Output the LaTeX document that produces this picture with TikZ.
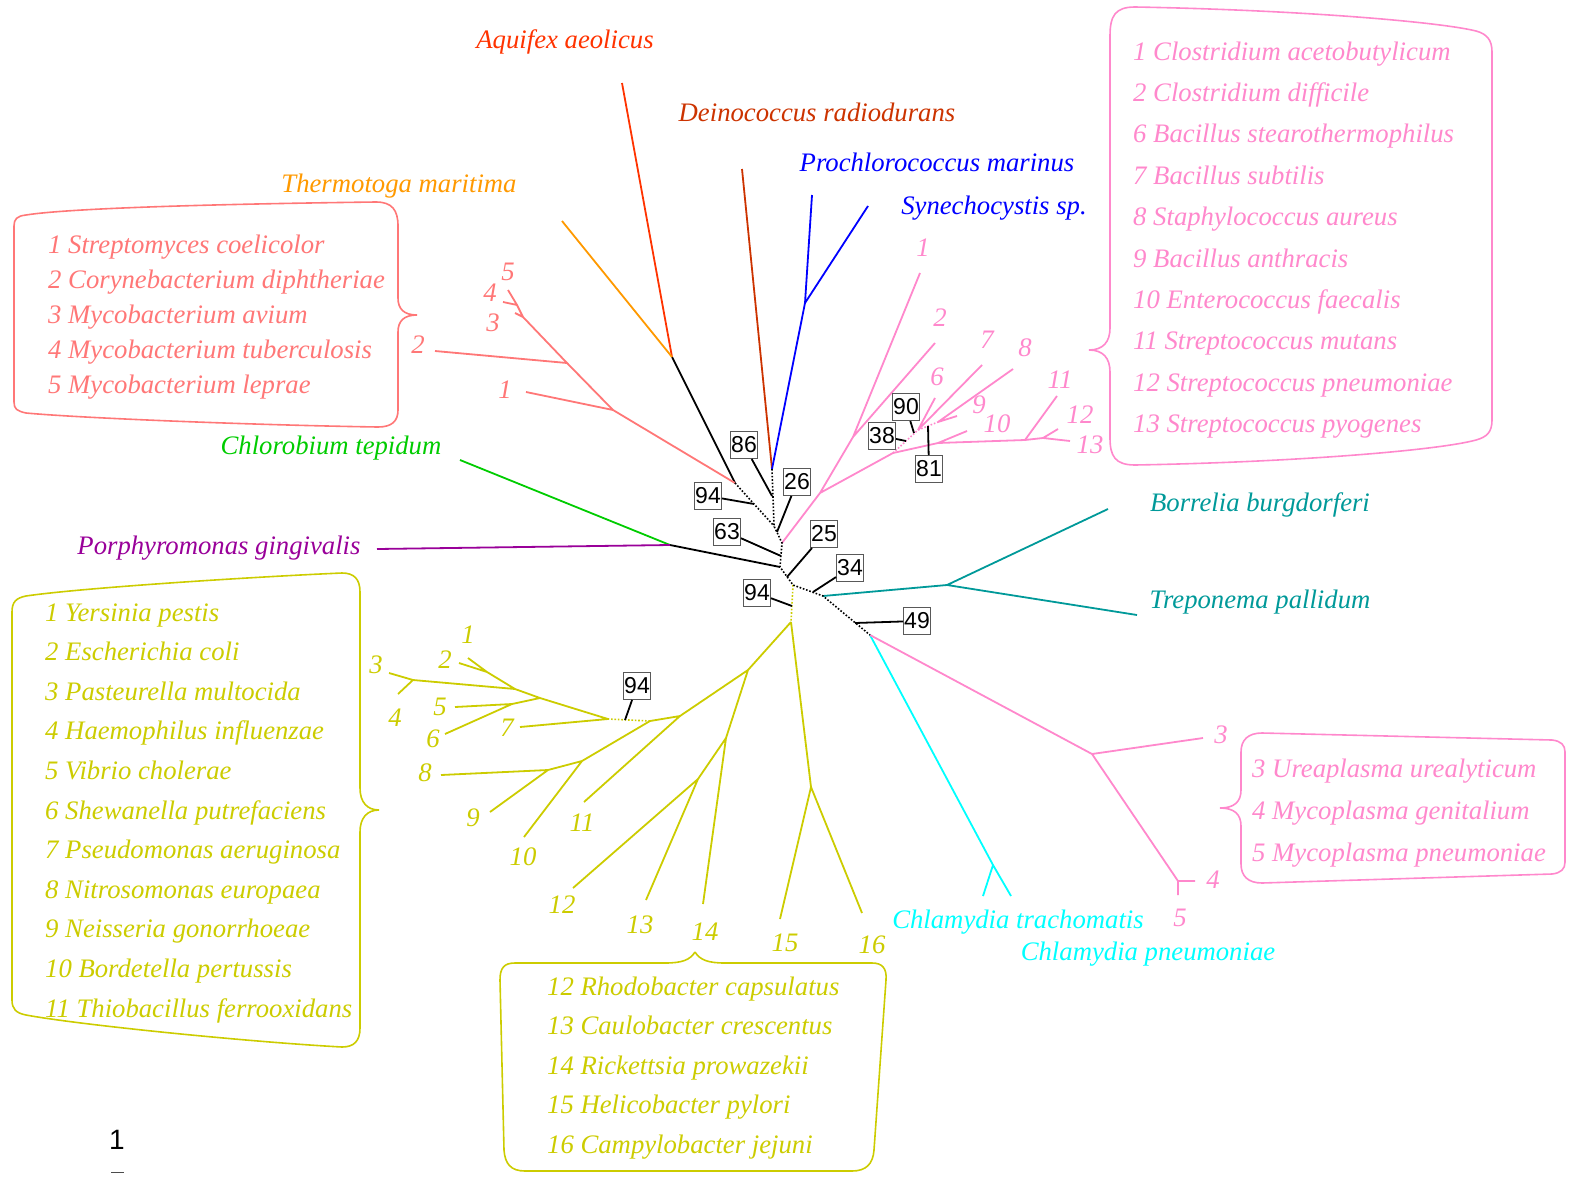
\documentclass[tikz,border=0pt]{standalone}
\usepackage{fontspec}
\setmainfont{Liberation Serif}
\setsansfont{Liberation Sans}
\definecolor{actino}{RGB}{255,119,119}
\definecolor{firmi}{RGB}{255,136,204}
\definecolor{proteo}{RGB}{204,204,0}
\definecolor{thermo}{RGB}{255,153,0}
\definecolor{aquif}{RGB}{255,51,0}
\definecolor{deino}{RGB}{204,51,0}
\definecolor{cyano}{RGB}{0,0,255}
\definecolor{chlorob}{RGB}{0,204,0}
\definecolor{bactero}{RGB}{153,0,153}
\definecolor{spiro}{RGB}{0,153,153}
\definecolor{chlam}{RGB}{0,255,255}
\tikzset{
  branch/.style={line width=1.8pt},
  inner/.style={line width=1.6pt, dash pattern=on 1.6pt off 1.8pt},
  sp/.style={font=\itshape\fontsize{26.7}{32}\selectfont, inner sep=0pt, anchor=base},
  item/.style={font=\itshape\fontsize{26.7}{32}\selectfont, inner sep=0pt, anchor=base west},
  num/.style={font=\itshape\fontsize{26.7}{32}\selectfont, inner sep=0pt},
  boot/.style={draw=black!65, line width=1pt, fill=white, font=\sffamily\fontsize{23}{23}\selectfont,
    inner sep=0pt, minimum width=27pt, minimum height=27pt},
  pointer/.style={line width=1.8pt},
  bracebox/.style={line width=1.6pt}
}
\begin{document}
\begin{tikzpicture}[x=1pt,y=-1pt]
  \useasboundingbox (0,0) rectangle (1573,1178);
  % backbone
  \coordinate (A) at (735,483); \coordinate (C) at (772,469);
  \coordinate (D) at (774,526); \coordinate (E) at (782,543);
  \coordinate (F) at (780,567); \coordinate (G) at (793,585);
  \coordinate (Y0) at (791,622); \coordinate (H) at (823,596);
  \coordinate (I) at (870,635);
  \coordinate (K) at (670,545); \coordinate (chl) at (460,460); \coordinate (por) at (377,549);
  \coordinate (AT) at (672,357); \coordinate (aqu) at (622,83); \coordinate (thm) at (562,221);
  \coordinate (dei) at (742,169); \coordinate (CY) at (805,303);
  \coordinate (pro) at (812,195); \coordinate (syn) at (868,206);
  \coordinate (SP) at (947,585); \coordinate (bor) at (1108,509); \coordinate (tre) at (1137,615);
  \coordinate (CH) at (993,865); \coordinate (cl1) at (983,896); \coordinate (cl2) at (1011,896);
  \coordinate (MY) at (1092,754); \coordinate (my3) at (1203,738);
  \coordinate (MY2) at (1178,881); \coordinate (my4) at (1195,881); \coordinate (my5) at (1178,895);
  % actinobacteria
  \coordinate (AC1) at (613,410); \coordinate (ac1) at (526,392);
  \coordinate (AC2) at (567,363); \coordinate (ac2) at (435,351);
  \coordinate (AC3) at (523,317); \coordinate (ac3) at (515,313);
  \coordinate (AC4) at (517,305); \coordinate (ac4) at (503,302); \coordinate (ac5) at (508,290);
  % firmicutes
  \coordinate (P1) at (820,493); \coordinate (P2) at (853,437);
  \coordinate (f1) at (920,273); \coordinate (f2) at (935,343);
  \coordinate (P3) at (893,453); \coordinate (Q) at (918,430); \coordinate (R) at (938,422);
  \coordinate (f6) at (935,398); \coordinate (f7) at (982,365);
  \coordinate (f8) at (1013,369); \coordinate (f9) at (957,416);
  \coordinate (S) at (938,443); \coordinate (f10) at (967,431);
  \coordinate (T) at (1025,440); \coordinate (f11) at (1057,396);
  \coordinate (U) at (1043,438); \coordinate (f12) at (1058,429); \coordinate (f13) at (1070,441);
  % proteobacteria
  \coordinate (Y1) at (748,670); \coordinate (Y2) at (680,716);
  \coordinate (Y4) at (726,738); \coordinate (Y5) at (698,779);
  \coordinate (Y6) at (650,721); \coordinate (Y7) at (608,719);
  \coordinate (Y8) at (582,761); \coordinate (Y9) at (548,770);
  \coordinate (Y10) at (540,698); \coordinate (Y11) at (515,689);
  \coordinate (Y12) at (512,704); \coordinate (Y13) at (487,672); \coordinate (Y14) at (413,680);
  \coordinate (YE) at (811,787);
  \coordinate (y1) at (468,658); \coordinate (y2) at (459,663); \coordinate (y3) at (389,673);
  \coordinate (y4) at (398,694); \coordinate (y5) at (455,707); \coordinate (y6) at (445,734);
  \coordinate (y7) at (520,727); \coordinate (y8) at (441,775); \coordinate (y9) at (490,812);
  \coordinate (y10) at (524,837); \coordinate (y11) at (584,802); \coordinate (y12) at (573,888);
  \coordinate (y13) at (646,900); \coordinate (y14) at (703,904); \coordinate (y15) at (780,919);
  \coordinate (y16) at (862,913);

  % branches
  \draw[branch] (AT) -- (A) (K) -- (F);
  \draw[branch,aquif] (AT) -- (aqu);
  \draw[branch,thermo] (AT) -- (thm);
  \draw[branch,deino] (C) -- (dei);
  \draw[branch,cyano] (C) -- (CY) -- (pro) (CY) -- (syn);
  \draw[branch,chlorob] (K) -- (chl);
  \draw[branch,bactero] (K) -- (por);
  \draw[branch,spiro] (H) -- (SP) -- (bor) (SP) -- (tre);
  \draw[branch,chlam] (I) -- (CH) -- (cl1) (CH) -- (cl2);
  \draw[branch,firmi] (I) -- (MY) -- (my3) (MY) -- (MY2) -- (my4) (MY2) -- (my5);
  \draw[branch,actino] (A) -- (AC1) -- (AC2) -- (AC3) -- (AC4) -- (ac5)
    (AC1) -- (ac1) (AC2) -- (ac2) (AC3) -- (ac3) (AC4) -- (ac4);
  \draw[branch,firmi] (E) -- (P1) -- (P2) -- (f1) (P2) -- (f2)
    (P1) -- (P3) -- (S) -- (T) -- (U) -- (f13) (S) -- (f10) (T) -- (f11) (U) -- (f12)
    (Q) -- (f6) (Q) -- (f7) (R) -- (f8) (R) -- (f9);
  \draw[inner,firmi] (P3) -- (Q) -- (R);
  \draw[branch,proteo] (Y0) -- (Y1) -- (Y4) -- (y14) (Y4) -- (Y5) -- (y12) (Y5) -- (y13)
    (Y0) -- (YE) -- (y15) (YE) -- (y16)
    (Y1) -- (Y2) -- (y11) (Y2) -- (Y6) -- (Y8) -- (y10) (Y8) -- (Y9) -- (y8) (Y9) -- (y9)
    (Y7) -- (y7) (Y7) -- (Y10) -- (Y12) -- (y5) (Y12) -- (y6)
    (Y10) -- (Y11) -- (Y13) -- (y1) (Y13) -- (y2) (Y11) -- (Y14) -- (y3) (Y14) -- (y4);
  \draw[inner,proteo] (Y6) -- (Y7) (G) -- (Y0);
  \draw[inner] (A) -- (D) (C) -- (D) -- (E) -- (F) -- (G) -- (H) -- (I);

  % bootstrap values
  \coordinate (t94a) at (754,504); \coordinate (t86) at (772,496);
  \coordinate (t26) at (777,532); \coordinate (t63) at (781,556);
  \coordinate (t25) at (787,577); \coordinate (t94b) at (792,606);
  \coordinate (t34) at (813,592); \coordinate (t49) at (855,623);
  \coordinate (t90) at (914,433); \coordinate (t38) at (906,441);
  \coordinate (t81) at (928,426); \coordinate (t94c) at (625,720);
  \foreach \nm/\x/\y/\v in {b86/744/445/86, b94a/708/496/94, b26/797/482/26, b63/727/532/63,
      b25/824/534/25, b34/850/568/34, b94b/757/593/94, b49/917/621/49,
      b90/906/407/90, b38/882/436/38, b81/929/469/81, b94c/637/686/94}
    \node[boot] (\nm) at (\x,\y) {\v};
  \draw[pointer] (b86) -- (t86) (b94a) -- (t94a) (b26) -- (t26) (b63) -- (t63)
    (b25) -- (t25) (b94b) -- (t94b) (b34) -- (t34) (b49) -- (t49)
    (b90) -- (t90) (b38) -- (t38) (b81) -- (t81) (b94c) -- (t94c);

  % species
  \node[sp,text=aquif] (naqu) at (565,48) {Aquifex aeolicus};
  \node[sp,text=deino] (ndei) at (817,121) {Deinococcus radiodurans};
  \node[sp,text=cyano] (npro) at (937,171) {Prochlorococcus marinus};
  \node[sp,text=cyano] (nsyn) at (994,214) {Synechocystis sp.};
  \node[sp,text=thermo] (nthm) at (399,192) {Thermotoga maritima};
  \node[sp,text=chlorob] (nchl) at (331,454) {Chlorobium tepidum};
  \node[sp,text=bactero] (npor) at (219,554) {Porphyromonas gingivalis};
  \node[sp,text=spiro] (nbor) at (1260,511) {Borrelia burgdorferi};
  \node[sp,text=spiro] (ntre) at (1260,608) {Treponema pallidum};
  \node[sp,text=chlam] (nctr) at (1018,928) {Chlamydia trachomatis};
  \node[sp,text=chlam] (ncpn) at (1148,960) {Chlamydia pneumoniae};

  % leaf numbers
  \foreach \v/\x/\y in {1/505/390, 2/418/345, 3/493/323, 4/490/293, 5/508/272}
    \node[num,text=actino] (la\v) at (\x,\y) {\v};
  \foreach \v/\x/\y in {1/923/248, 2/940/318, 6/937/377, 7/987/340, 8/1025/348, 9/979/405,
      10/997/424, 11/1060/380, 12/1080/415, 13/1090/445}
    \node[num,text=firmi] (lf\v) at (\x,\y) {\v};
  \foreach \v/\x/\y in {3/1221/735, 4/1213/880, 5/1180/918}
    \node[num,text=firmi] (lm\v) at (\x,\y) {\v};
  \foreach \v/\x/\y in {1/468/635, 2/445/660, 3/376/665, 4/395/718, 5/440/707, 6/433/739,
      7/507/728, 8/425/773, 9/473/818, 10/523/857, 11/582/823, 12/562/905, 13/640/925,
      14/705/932, 15/785/943, 16/872/945}
    \node[num,text=proteo] (ly\v) at (\x,\y) {\v};

  % legends
  \draw[bracebox,actino] (417,315) .. controls (404,315) and (398,309) .. (398,298) -- (398,226)
    .. controls (398,210) and (392,202) .. (376,202) .. controls (220,204) and (70,208) .. (26,215)
    .. controls (17,216) and (14,219) .. (14,226) -- (14,402) .. controls (14,409) and (17,411) .. (26,413)
    .. controls (80,418) and (250,425) .. (378,427) .. controls (392,427) and (398,421) .. (398,410)
    -- (398,332) .. controls (398,321) and (404,315) .. (417,315);
  \foreach \t [count=\i from 0] in {1 Streptomyces coelicolor, 2 Corynebacterium diphtheriae,
      3 Mycobacterium avium, 4 Mycobacterium tuberculosis, 5 Mycobacterium leprae}
    \node[item,text=actino] (act\i) at (48,{253.3+35*\i}) {\t};

  \draw[bracebox,firmi] (1089,350) .. controls (1103,350) and (1110,342) .. (1110,328) -- (1110,36)
    .. controls (1110,16) and (1115,7) .. (1135,7) .. controls (1300,10) and (1440,22) .. (1476,31)
    .. controls (1487,34) and (1492,40) .. (1492,52) -- (1492,420)
    .. controls (1492,432) and (1487,437) .. (1476,440) .. controls (1440,450) and (1300,462) .. (1135,465)
    .. controls (1115,465) and (1110,456) .. (1110,438) -- (1110,372)
    .. controls (1110,358) and (1103,350) .. (1089,350);
  \foreach \t [count=\i from 0] in {1 Clostridium acetobutylicum, 2 Clostridium difficile,
      6 Bacillus stearothermophilus, 7 Bacillus subtilis, 8 Staphylococcus aureus,
      9 Bacillus anthracis, 10 Enterococcus faecalis, 11 Streptococcus mutans,
      12 Streptococcus pneumoniae, 13 Streptococcus pyogenes}
    \node[item,text=firmi] (fir\i) at (1133,{60+41.4*\i}) {\t};

  \draw[bracebox,firmi] (1220,808) .. controls (1234,808) and (1241,802) .. (1241,790) -- (1241,752)
    .. controls (1241,740) and (1248,733) .. (1262,733) -- (1552,740)
    .. controls (1561,741) and (1565,745) .. (1565,752) -- (1565,862)
    .. controls (1565,869) and (1561,873) .. (1552,874) -- (1262,883)
    .. controls (1248,883) and (1241,876) .. (1241,864) -- (1241,826)
    .. controls (1241,814) and (1234,808) .. (1220,808);
  \foreach \t [count=\i from 0] in {3 Ureaplasma urealyticum, 4 Mycoplasma genitalium,
      5 Mycoplasma pneumoniae}
    \node[item,text=firmi] (myc\i) at (1252,{777+42*\i}) {\t};

  \draw[bracebox,proteo] (379,810) .. controls (367,810) and (360,802) .. (360,788) -- (360,592)
    .. controls (360,579) and (354,573) .. (342,573) .. controls (250,577) and (80,588) .. (26,596)
    .. controls (16,598) and (12,602) .. (12,612) -- (12,1000)
    .. controls (12,1009) and (16,1013) .. (26,1015) .. controls (80,1025) and (250,1042) .. (342,1047)
    .. controls (354,1047) and (360,1041) .. (360,1028) -- (360,832)
    .. controls (360,818) and (367,810) .. (379,810);
  \foreach \t [count=\i from 0] in {1 Yersinia pestis, 2 Escherichia coli, 3 Pasteurella multocida,
      4 Haemophilus influenzae, 5 Vibrio cholerae, 6 Shewanella putrefaciens,
      7 Pseudomonas aeruginosa, 8 Nitrosomonas europaea, 9 Neisseria gonorrhoeae,
      10 Bordetella pertussis, 11 Thiobacillus ferrooxidans}
    \node[item,text=proteo] (gam\i) at (45,{621+39.6*\i}) {\t};

  \draw[bracebox,proteo] (695,952) .. controls (690,960) and (682,963) .. (665,963) -- (515,963)
    .. controls (504,963) and (500,968) .. (500,980) -- (504,1150)
    .. controls (505,1164) and (511,1171) .. (525,1171) -- (852,1171)
    .. controls (866,1171) and (873,1164) .. (874,1150) -- (886,980)
    .. controls (887,968) and (882,963) .. (872,963) -- (725,963)
    .. controls (708,963) and (700,960) .. (695,952);
  \foreach \t [count=\i from 0] in {12 Rhodobacter capsulatus, 13 Caulobacter crescentus,
      14 Rickettsia prowazekii, 15 Helicobacter pylori, 16 Campylobacter jejuni}
    \node[item,text=proteo] (alp\i) at (547,{995+39.6*\i}) {\t};

  % scale
  \node[font=\sffamily\fontsize{28}{28}\selectfont, inner sep=0pt] (scl) at (117,1140) {1};
  \coordinate (sbl) at (111,1172); \coordinate (sbr) at (124,1172);
  \draw[line width=1pt, black!70] (sbl) -- (sbr);
\end{tikzpicture}
\end{document}
